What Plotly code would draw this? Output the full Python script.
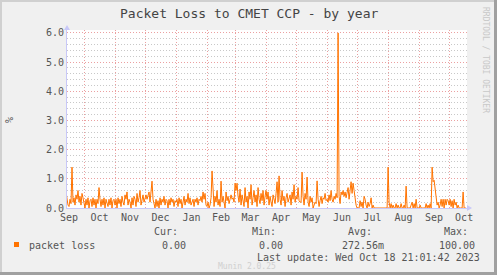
import pandas as pd
import plotly.graph_objects as go

# ---- data (daily packet loss %) ----
sep22 = [0.55, 0.3, 0.1, 0.05, 0.3, 0.15, 1.4, 0.2, 0.35, 0.1, 0.45, 0.3, 0.6, 0.2, 0.4, 0.1, 0.5, 0.35]
oct22 = [0.15, 0.0, 0.3, 0.1, 0.35, 0.0, 0.25, 0.3, 0.05, 0.35, 0.1, 0.3, 0.0, 0.3, 0.15, 0.7, 0.3, 0.05,
         0.3, 0.1, 0.35, 0.0, 0.3, 0.2, 0.05, 0.3, 0.1, 0.35, 0.0, 0.25, 0.3]
nov22 = [0.1, 0.3, 0.0, 0.35, 0.15, 0.3, 0.05, 0.4, 0.2, 0.1, 0.45, 0.3, 0.55, 0.1, 0.3, 0.2, 0.0, 0.35,
         0.1, 0.4, 0.3, 0.05, 0.5, 0.2, 0.35, 0.6, 0.1, 0.3, 0.45, 0.2]
dec22 = [0.35, 0.45, 0.3, 0.5, 0.55, 0.2, 0.6, 0.92, 0.3, 0.1, 0.0, 0.3, 0.05, 0.25, 0.0, 0.35, 0.1, 0.3,
         0.2, 0.4, 0.1, 0.3, 0.25, 0.0, 0.3, 0.1, 0.35, 0.2, 0.3, 0.05, 0.25]
jan23 = [0.2, 0.3, 0.05, 0.35, 0.15, 0.3, 0.0, 0.25, 0.4, 0.1, 0.3, 0.2, 0.5, 0.15, 0.35, 0.1, 0.25, 0.3,
         0.05, 0.3, 0.2, 0.35, 0.1, 0.3, 0.25, 0.4, 0.2, 0.55, 0.3, 0.5, 0.1]
feb23 = [0.05, 0.2, 0.0, 0.1, 0.35, 1.27, 0.3, 0.05, 0.4, 0.2, 0.6, 0.1, 0.3, 0.05, 0.92, 0.2, 0.4, 0.1,
         0.0, 0.55, 0.25, 0.4, 0.15, 0.3, 0.45, 0.3, 0.35, 0.2]
mar23 = [0.85, 0.6, 0.85, 0.4, 0.2, 0.65, 0.1, 0.45, 0.3, 0.05, 0.7, 0.2, 0.4, 0.0, 0.55, 0.3, 0.8, 0.1,
         0.35, 0.6, 0.2, 0.45, 0.05, 0.7, 0.3, 0.15, 0.5, 0.25, 0.6, 0.1, 0.4]
apr23 = [0.6, 0.3, 0.55, 0.1, 0.4, 0.2, 0.05, 0.45, 0.3, 0.15, 0.5, 0.9, 0.2, 1.1, 0.3, 0.1, 0.6, 0.25,
         0.4, 0.05, 0.35, 0.5, 0.2, 0.3, 0.45, 0.1, 0.55, 0.3, 0.8, 0.2]
may23 = [0.4, 0.3, 0.7, 0.25, 0.2, 0.2, 1.23, 0.4, 0.1, 0.5, 0.3, 1.06, 0.2, 0.05, 0.4, 0.2, 0.35, 0.0,
         0.1, 0.2, 0.15, 0.93, 0.3, 0.05, 0.25, 0.4, 0.15, 0.35, 0.3, 0.5, 0.25]
jun23 = [0.3, 0.2, 0.45, 0.25, 0.6, 0.3, 0.2, 0.4, 0.3, 0.5, 0.35, 6.0, 0.4, 0.15, 0.55, 0.45, 0.6, 0.4,
         0.55, 0.35, 0.5, 0.7, 0.3, 0.65, 0.9, 0.5, 0.85, 0.6, 0.3, 0.1]
jul23 = [0.0, 0.0, 0.0, 0.25, 0.05, 0.2, 0.0, 0.4, 0.3, 0.1, 0.0, 0.2, 0.05, 0.15, 0.35, 0.0, 0.1, 0.0,
         0.0, 0.0, 0.0, 0.0, 0.0, 0.0, 0.0, 0.0, 0.0, 0.0, 0.0, 0.0, 0.0]
aug23 = [1.4, 0.2, 0.0, 0.15, 0.0, 0.1, 0.0, 0.0, 0.15, 0.0, 0.1, 0.0, 0.0, 0.15, 0.0, 0.0, 0.1, 0.0,
         0.75, 0.0, 0.0, 0.0, 0.0, 0.1, 0.2, 0.0, 0.15, 0.0, 0.3, 0.0, 0.0]
sep23 = [0.0, 0.1, 0.0, 0.0, 0.0, 0.0, 0.0, 0.15, 0.0, 0.1, 0.0, 0.15, 0.0, 1.4, 0.9, 0.95, 0.7, 0.4,
         0.1, 0.2, 0.0, 0.1, 0.3, 0.05, 0.3, 0.0, 0.3, 0.1, 0.3, 0.25]
oct23 = [0.1, 0.3, 0.05, 0.25, 0.0, 0.3, 0.1, 0.2, 0.0, 0.1, 0.0, 0.0, 0.0, 0.0, 0.55, 0.0, 0.0, 0.0]

first_day = "2022-09-13"
title_text = "Packet Loss to CMET CCP - by year"
y_label = "%"
series_name = "packet loss"
legend_heads = ["Cur:", "Min:", "Avg:", "Max:"]
legend_vals = ["0.00", "0.00", "272.56m", "100.00"]
last_update = "Last update: Wed Oct 18 21:01:42 2023"
munin_ver = "Munin 2.0.25"
side_text = "RRDTOOL / TOBI OETIKER"

values = (sep22 + oct22 + nov22 + dec22 + jan23 + feb23 + mar23 + apr23 + may23
          + jun23 + jul23 + aug23 + sep23 + oct23)
dates = pd.date_range(first_day, periods=len(values), freq="D")

# ---- layout geometry (pixels) ----
W, H = 497, 275
L, R, T, B = 67, 467, 30, 208
FONT = "DejaVu Sans Mono"
ORANGE = "#FF7300"
AXIS = "#C8C8F8"
MAJOR = "#EBA0A0"
MINOR = "#C8C8C8"
DASH = "1px,2px"


def px(x):
    return (x - L) / (R - L)


def py(y):
    return (B - y) / (B - T)


fig = go.Figure()
fig.add_trace(go.Scatter(x=dates, y=values, mode="lines",
                         line=dict(color=ORANGE, width=1), hoverinfo="skip",
                         showlegend=False))

fig.update_layout(
    width=W, height=H,
    margin=dict(l=L, r=W - R, t=T, b=H - B),
    paper_bgcolor="#F0F0F0", plot_bgcolor="#FFFFFF",
    font=dict(family=FONT, size=10, color="#555555"),
    showlegend=False,
)

fig.update_xaxes(
    type="date", range=["2022-09-14 00:00", "2023-10-18 21:00"],
    dtick="M1", tick0="2022-09-01", tickformat="%b", ticklabelmode="period",
    showgrid=True, gridcolor=MAJOR, griddash=DASH, gridwidth=1,
    showline=True, linecolor=AXIS, linewidth=1, ticks="",
    tickfont=dict(family=FONT, size=10, color="#555555"),
    zeroline=False,
)
fig.update_yaxes(
    range=[0, 6.1], tickvals=[0, 1, 2, 3, 4, 5, 6],
    ticktext=["0.0", "1.0", "2.0", "3.0", "4.0", "5.0", "6.0"],
    showgrid=True, gridcolor=MAJOR, griddash=DASH, gridwidth=1,
    minor=dict(dtick=0.2, tick0=0, showgrid=True, gridcolor=MINOR, griddash=DASH, gridwidth=1),
    showline=True, linecolor=AXIS, linewidth=1, ticks="", zeroline=False,
    tickfont=dict(family=FONT, size=10, color="#555555"),
)

shapes = []
# axis arrows
shapes.append(dict(type="path", xref="paper", yref="paper",
                   path=f"M {px(R)} {py(B-3)} L {px(R+5)} {py(B)} L {px(R)} {py(B+3)} Z",
                   fillcolor=AXIS, line=dict(width=0)))
shapes.append(dict(type="path", xref="paper", yref="paper",
                   path=f"M {px(L-3)} {py(T)} L {px(L)} {py(T-5)} L {px(L+3)} {py(T)} Z",
                   fillcolor=AXIS, line=dict(width=0)))
# legend swatch
shapes.append(dict(type="rect", xref="paper", yref="paper",
                   x0=px(14), x1=px(19), y0=py(247), y1=py(242),
                   fillcolor=ORANGE, line=dict(width=0)))
# outer frame
shapes.append(dict(type="rect", xref="paper", yref="paper", x0=px(0), x1=px(2), y0=py(275), y1=py(0),
                   fillcolor="#D0D0D0", line=dict(width=0), layer="above"))
shapes.append(dict(type="rect", xref="paper", yref="paper", x0=px(0), x1=px(497), y0=py(2), y1=py(0),
                   fillcolor="#D0D0D0", line=dict(width=0), layer="above"))
shapes.append(dict(type="rect", xref="paper", yref="paper", x0=px(494), x1=px(497), y0=py(275), y1=py(0),
                   fillcolor="#A0A0A0", line=dict(width=0), layer="above"))
shapes.append(dict(type="rect", xref="paper", yref="paper", x0=px(0), x1=px(497), y0=py(275), y1=py(272),
                   fillcolor="#A0A0A0", line=dict(width=0), layer="above"))
fig.update_layout(shapes=shapes)

ann = []


def text(x, y, s, size=10, color="#555555", xanchor="left", angle=0):
    ann.append(dict(x=px(x), y=py(y), xref="paper", yref="paper", text=s, showarrow=False,
                    xanchor=xanchor, yanchor="middle", textangle=angle,
                    font=dict(family=FONT, size=size, color=color)))


text(249, 13, title_text, size=13, color="#444444", xanchor="center")
text(9, 120, y_label, size=10, angle=-90, xanchor="center")
text(485, 60, side_text, size=8, color="#C8C8C8", angle=90, xanchor="center")
text(27, 245, series_name)
head_right = [180, 278, 374, 470]
val_right = [188, 285, 386, 477]
for hx, h in zip(head_right, legend_heads):
    text(hx, 232, h, xanchor="right")
for vx, v in zip(val_right, legend_vals):
    text(vx, 245, v, xanchor="right")
text(482, 257, last_update, xanchor="right")
text(247, 266, munin_ver, size=8, color="#CFCFCF", xanchor="center")
fig.update_layout(annotations=ann)

fig.write_html("out.html")
